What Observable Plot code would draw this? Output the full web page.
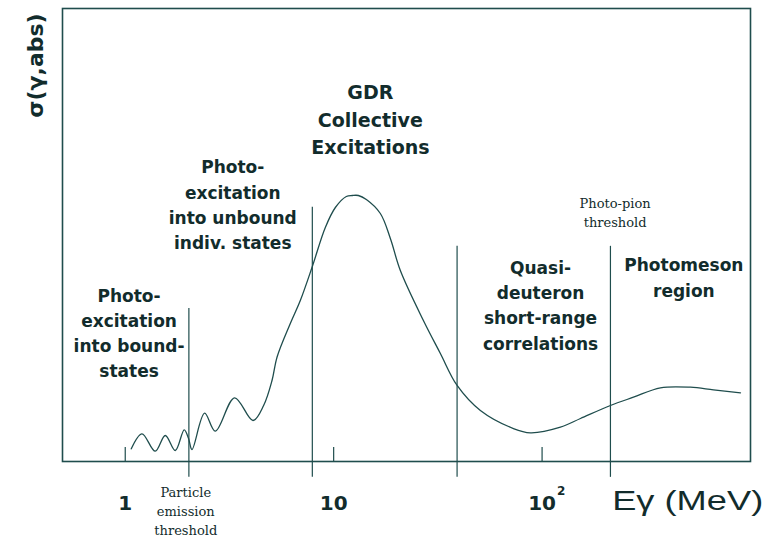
<!DOCTYPE html>
<html><head><meta charset="utf-8">
<script src="https://cdn.jsdelivr.net/npm/d3@7"></script>
<script src="https://cdn.jsdelivr.net/npm/@observablehq/plot@0.6"></script>
<style>body{margin:0;background:#fff}</style>
</head><body><div id="chart"></div>
<script>
// Schematic photoabsorption cross section vs photon energy (MeV, log scale)
const curveE = [1.069, 1.203, 1.393, 1.556, 1.738, 1.919, 2.013, 2.090, 2.403, 2.704,
  3.347, 4.102, 4.612, 5.061, 5.348, 6.194, 6.918, 7.900, 9.120, 10.19,
  11.50, 12.29, 13.14, 14.35, 16.75, 18.71, 20.89, 26.95, 32.51, 39.11,
  50.58, 72.86, 87.90, 122.5, 152.8, 212.8, 274.4, 369.8, 515.2, 664.4, 895.4];
const curveSigma = [2.80, 6.11, 2.27, 5.74, 2.43, 7.00, 5.08, 2.65, 10.66, 6.69,
  14.06, 9.05, 12.36, 17.88, 23.02, 30.46, 35.54, 43.05, 51.66, 56.07,
  58.50, 58.72, 58.72, 57.84, 54.75, 49.23, 42.16, 31.13, 23.84, 16.78,
  11.26, 7.28, 6.34, 7.57, 9.49, 12.36, 14.19, 16.27, 16.40, 15.83, 15.17];

const thresholdE = [2.02, 7.9, 39.1, 212.8];
const thresholdTop = [33.8, 56.1, 47.5, 47.5];

const tickE = [1, 10, 100];
const tickLabels = ["1", "10", "10"];
const tickSup = ["", "", "2"];

const regionText = [
  "Photo-\nexcitation\ninto bound-\nstates",
  "Photo-\nexcitation\ninto unbound\nindiv. states",
  "Quasi-\ndeuteron\nshort-range\ncorrelations",
  "Photomeson\nregion"
];
const regionE = [1.043, 3.28, 98.3, 479];
const regionY = [18.6, 46.95, 24.7, 36.4];

const gdrText = ["GDR\nCollective\nExcitations"];
const gdrE = [15.0];
const gdrY = [67.8];

const noteText = ["Particle\nemission\nthreshold", "Photo-pion\nthreshold"];
const noteE = [1.952, 224];
const noteY = [-16.3, 51.7];

const xLabel = "Eγ (MeV)";
const yLabel = "σ(γ,abs)";

const curve = curveE.map((e, i) => ({e, s: curveSigma[i]}));
const thresholds = thresholdE.map((e, i) => ({e, top: thresholdTop[i]}));
const ticks = tickE.map((e, i) => ({e, label: tickLabels[i], sup: tickSup[i]}));
const regions = regionText.map((t, i) => ({t, e: regionE[i], y: regionY[i]}));
const gdr = gdrText.map((t, i) => ({t, e: gdrE[i], y: gdrY[i]}));
const notes = noteText.map((t, i) => ({t, e: noteE[i], y: noteY[i]}));

const LINE = "#1f4d4d";
const INK = "#122c2c";

const plot = Plot.plot({
  width: 764, height: 540,
  marginTop: 8, marginBottom: 79, marginLeft: 62, marginRight: 14,
  x: {type: "log", domain: [0.5, 1000], axis: null},
  y: {domain: [0, 100], axis: null},
  style: {background: "white", fontFamily: "DejaVu Sans"},
  marks: [
    Plot.frame({stroke: LINE, strokeWidth: 1.6}),
    Plot.ruleX(ticks, {x: "e", y1: 0, y2: 3.1, stroke: LINE, strokeWidth: 1.2}),
    Plot.ruleX(thresholds, {x: "e", y1: -3.5, y2: "top", stroke: LINE, strokeWidth: 1.2}),
    Plot.line(curve, {x: "e", y: "s", curve: "catmull-rom", stroke: LINE, strokeWidth: 1.3}),
    Plot.text(regions, {x: "e", y: "y", text: "t", lineAnchor: "bottom", lineHeight: 1.48,
      fontSize: 17, fontWeight: "bold", fill: INK, textAnchor: "middle"}),
    Plot.text(gdr, {x: "e", y: "y", text: "t", lineAnchor: "bottom", lineHeight: 1.45,
      fontSize: 19, fontWeight: "bold", fill: INK, textAnchor: "middle"}),
    Plot.text(notes, {x: "e", y: "y", text: "t", lineAnchor: "bottom", lineHeight: 1.46,
      fontSize: 13, fontFamily: "DejaVu Serif", fill: INK, textAnchor: "middle"}),
    Plot.text(ticks, {x: "e", y: -10.6, text: "label", lineAnchor: "bottom",
      fontSize: 20, fontWeight: "bold", fill: INK, textAnchor: "middle"}),
    Plot.text(ticks, {x: "e", y: -7.3, text: "sup", lineAnchor: "bottom", dx: 19,
      fontSize: 12, fontWeight: "bold", fill: INK, textAnchor: "middle"}),
    Plot.text([xLabel], {x: 217, y: -10.66, text: (d) => d, lineAnchor: "bottom",
      fontSize: 27, fontFamily: "Liberation Sans", fill: INK, textAnchor: "start"}),
    Plot.text([yLabel], {frameAnchor: "top-left", dx: -35.5, dy: 57, rotate: -90, text: (d) => d,
      fontSize: 22, fontWeight: "bold", fill: INK, textAnchor: "middle"})
  ]
});

d3.select(plot).selectAll("text").each(function () {
  if (this.textContent === xLabel) {
    this.setAttribute("textLength", 151);
    this.setAttribute("lengthAdjust", "spacingAndGlyphs");
  }
});

document.getElementById("chart").appendChild(plot);
</script>
</body></html>
